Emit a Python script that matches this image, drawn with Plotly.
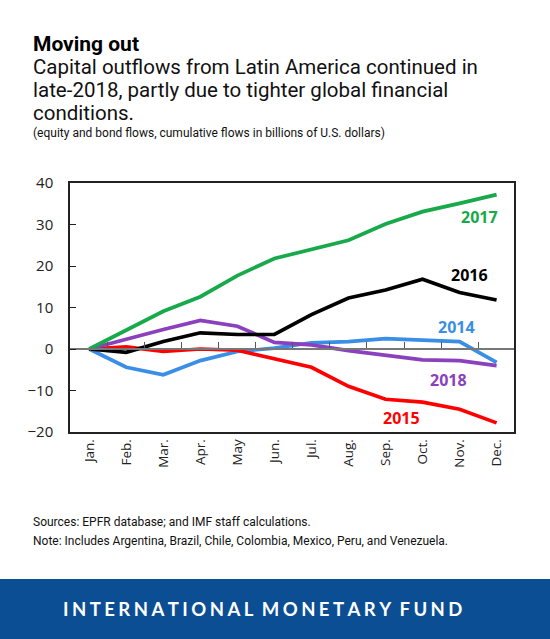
import plotly.graph_objects as go

months = ["Jan.", "Feb.", "Mar.", "Apr.", "May", "Jun.", "Jul.", "Aug.", "Sep.", "Oct.", "Nov.", "Dec."]
y2014 = [0, -4.4, -6.2, -2.8, -0.6, 0.2, 1.5, 1.8, 2.5, 2.1, 1.8, -3.2]
y2015 = [0, 0.5, -0.6, 0.0, -0.3, -2.4, -4.4, -9.0, -12.1, -12.8, -14.5, -17.8]
y2016 = [0, -0.8, 1.8, 3.9, 3.5, 3.5, 8.3, 12.3, 14.2, 16.8, 13.6, 11.8]
y2017 = [0, 4.5, 9.1, 12.6, 17.7, 21.8, 23.9, 26.2, 30.1, 33.1, 35.1, 37.2]
y2018 = [0, 2.4, 4.7, 6.9, 5.5, 1.6, 1.0, -0.4, -1.4, -2.6, -2.8, -4.0]

series = [
    ("2014", y2014, "#3a8ee6"),
    ("2015", y2015, "#ff0000"),
    ("2018", y2018, "#8b41bd"),
    ("2016", y2016, "#000000"),
    ("2017", y2017, "#17a94a"),
]
# label positions (data coords) for the inline series labels
label_pos = {
    "2017": (10.55, 31.8),
    "2016": (10.28, 17.8),
    "2014": (9.93, 5.4),
    "2018": (9.69, -7.5),
    "2015": (8.42, -16.7),
}

x = list(range(len(months)))
fig = go.Figure()
for name, vals, col in series:
    fig.add_trace(go.Scatter(x=x, y=vals, mode="lines", name=name,
                             line=dict(color=col, width=3.7), showlegend=False,
                             hoverinfo="skip"))
for name, vals, col in series:
    lx, ly = label_pos[name]
    fig.add_annotation(x=lx, y=ly, text="<b>%s</b>" % name, showarrow=False,
                       font=dict(family="Open Sans", size=16, color=col),
                       xanchor="center", yanchor="middle")

W, H = 550, 639
L, R, T, B = 70, 36, 183, 207
ph = H - T - B
pw = W - L - R

fig.update_layout(
    width=W, height=H,
    margin=dict(l=L, r=R, t=T, b=B),
    paper_bgcolor="white", plot_bgcolor="white",
    xaxis=dict(range=[-0.52, 11.47], tickvals=x, ticktext=months, tickangle=-90,
               showgrid=False, zeroline=False, showline=True, linecolor="#222",
               linewidth=1.5, mirror=True, ticks="", ticklen=0,
               tickfont=dict(family="Open Sans", size=13.5, color="#222")),
    xaxis2=dict(range=[-0.52, 11.47], overlaying="x", anchor="free",
                position=1/3, side="top", showline=True, linecolor="#777",
                linewidth=1.5, ticks="outside", ticklen=6, tickwidth=1,
                tickcolor="#555", tickvals=[i + 0.5 for i in range(11)],
                showticklabels=False, showgrid=False, zeroline=False),
    yaxis=dict(range=[-20, 40], tickvals=[-20, -10, 0, 10, 20, 30, 40],
               showgrid=False, zeroline=False, showline=True, linecolor="#222",
               linewidth=1.5, mirror=True, ticks="inside", ticklen=6,
               tickcolor="#222", ticklabelstandoff=12,
               tickfont=dict(family="Open Sans", size=15, color="#222")),
)
# invisible trace to activate xaxis2
fig.add_trace(go.Scatter(x=[0], y=[0], xaxis="x2", mode="markers",
                         marker=dict(opacity=0), showlegend=False, hoverinfo="skip"))

def py(pix):
    # convert pixel y (from top) to paper coordinate
    return (H - B - pix) / ph

def px(pix):
    return (pix - L) / pw

texts = [
    ("<b>Moving out</b>", 31, 44, 21, "#000"),
    ("Capital outflows from Latin America continued in", 31, 67, 20.5, "#111"),
    ("late-2018, partly due to tighter global financial", 31, 90, 20.5, "#111"),
    ("conditions.", 31, 113, 20.5, "#111"),
    ("(equity and bond flows, cumulative flows in billions of U.S. dollars)", 31, 133, 12, "#111"),
    ("Sources: EPFR database; and IMF staff calculations.", 31, 522, 12, "#111"),
    ("Note: Includes Argentina, Brazil, Chile, Colombia, Mexico, Peru, and Venezuela.", 31, 541, 12, "#111"),
]
for t, xx, yy, sz, col in texts:
    fig.add_annotation(xref="paper", yref="paper", x=px(xx), y=py(yy), text=t,
                       showarrow=False, xanchor="left", yanchor="middle",
                       font=dict(family="Roboto", size=sz, color=col))

fig.add_shape(type="rect", xref="paper", yref="paper", x0=px(-2), x1=px(W + 2),
              y0=py(579), y1=py(H + 2), fillcolor="#0b4e94", line=dict(width=0),
              layer="below")
gap = "\u2009\u200a"
banner = "INTERNATIONAL MONETARY FUND"
banner_text = gap.join(list(banner)).replace(" " + gap, "  ").replace(gap + " ", " ")
fig.add_annotation(xref="paper", yref="paper", x=px(262), y=py(609),
                   text="<b>%s</b>" % banner_text, showarrow=False,
                   xanchor="center", yanchor="middle",
                   font=dict(family="Lato", size=18.5, color="white"))

fig.write_html("out.html", config={"displayModeBar": False},
               post_script="document.body.style.margin='0';document.body.style.overflow='hidden';")
